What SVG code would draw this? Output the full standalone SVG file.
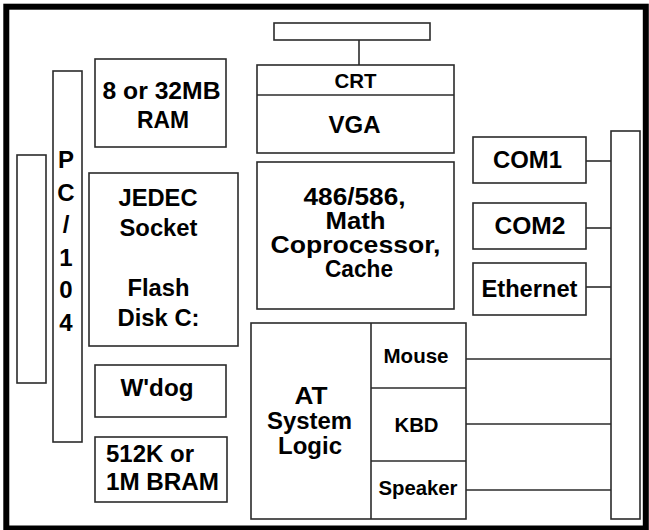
<svg xmlns="http://www.w3.org/2000/svg" width="649" height="530" viewBox="0 0 649 530">
<style>
.box{fill:#fff;stroke:#2b2b2b;stroke-width:1.6}
.ln{stroke:#2b2b2b;stroke-width:1.6;fill:none}
text{font-family:"Liberation Sans",Arial,sans-serif;font-weight:bold;font-size:23px;fill:#000;text-anchor:middle}
.s{font-size:21px}
.p{font-size:24px}
.l{text-anchor:start}
</style>
<rect x="0" y="0" width="649" height="530" fill="#fff"/>
<rect id="frame" x="6.3" y="6.7" width="639.5" height="521.8" fill="none" stroke="#000" stroke-width="6"/>
<g id="connectors">
<line class="ln" x1="359" y1="40" x2="359" y2="65"/>
<line class="ln" x1="586" y1="161" x2="611" y2="161"/>
<line class="ln" x1="586" y1="228" x2="611" y2="228"/>
<line class="ln" x1="586" y1="287" x2="611" y2="287"/>
<line class="ln" x1="466" y1="359" x2="611" y2="359"/>
<line class="ln" x1="466" y1="424" x2="611" y2="424"/>
<line class="ln" x1="466" y1="490" x2="611" y2="490"/>
</g>
<g id="crt-connector"><rect class="box" x="274" y="23" width="156" height="17"/></g>
<g id="left-connector"><rect class="box" x="17" y="155" width="29" height="228"/></g>
<g id="pc104">
<rect class="box" x="53" y="71" width="29" height="371"/>
<text class="p" x="66" y="168">P</text>
<text class="p" x="66" y="200.5">C</text>
<text class="p" x="66" y="233">/</text>
<text class="p" x="66" y="265.5">1</text>
<text class="p" x="66" y="298">0</text>
<text class="p" x="66" y="330.5">4</text>
</g>
<g id="ram">
<rect class="box" x="95" y="59" width="131" height="88"/>
<text x="161.5" y="99" textLength="118" lengthAdjust="spacingAndGlyphs">8 or 32MB</text>
<text x="163" y="128" textLength="52" lengthAdjust="spacingAndGlyphs">RAM</text>
</g>
<g id="jedec">
<rect class="box" x="89" y="173" width="149" height="173"/>
<text x="158" y="206" textLength="79" lengthAdjust="spacingAndGlyphs">JEDEC</text>
<text x="158.5" y="236" textLength="78" lengthAdjust="spacingAndGlyphs">Socket</text>
<text x="158.5" y="296" textLength="62" lengthAdjust="spacingAndGlyphs">Flash</text>
<text x="158.5" y="326" textLength="82" lengthAdjust="spacingAndGlyphs">Disk C:</text>
</g>
<g id="wdog">
<rect class="box" x="95" y="365" width="131" height="52"/>
<text x="157" y="396" textLength="73" lengthAdjust="spacingAndGlyphs">W'dog</text>
</g>
<g id="bram">
<rect class="box" x="95" y="437" width="132" height="65"/>
<text class="l" x="106" y="462" textLength="88" lengthAdjust="spacingAndGlyphs">512K or</text>
<text class="l" x="106" y="490" textLength="113" lengthAdjust="spacingAndGlyphs">1M BRAM</text>
</g>
<g id="vga">
<rect class="box" x="257" y="65" width="197" height="88"/>
<line class="ln" x1="257" y1="95" x2="454" y2="95"/>
<text class="s" x="355.5" y="88" textLength="42" lengthAdjust="spacingAndGlyphs">CRT</text>
<text x="354.5" y="133" textLength="52" lengthAdjust="spacingAndGlyphs">VGA</text>
</g>
<g id="cpu">
<rect class="box" x="257" y="162" width="197" height="147"/>
<text x="354.5" y="205" textLength="102" lengthAdjust="spacingAndGlyphs">486/586,</text>
<text x="355.5" y="229" textLength="60" lengthAdjust="spacingAndGlyphs">Math</text>
<text x="355.5" y="253" textLength="170" lengthAdjust="spacingAndGlyphs">Coprocessor,</text>
<text x="359" y="277" textLength="68" lengthAdjust="spacingAndGlyphs">Cache</text>
</g>
<g id="at">
<rect class="box" x="251" y="323" width="215" height="196"/>
<line class="ln" x1="371" y1="323" x2="371" y2="519"/>
<line class="ln" x1="371" y1="388" x2="466" y2="388"/>
<line class="ln" x1="371" y1="461" x2="466" y2="461"/>
<text x="311" y="404" textLength="33" lengthAdjust="spacingAndGlyphs">AT</text>
<text x="309.5" y="429" textLength="85" lengthAdjust="spacingAndGlyphs">System</text>
<text x="310" y="454" textLength="64" lengthAdjust="spacingAndGlyphs">Logic</text>
<text class="s" x="416" y="363" textLength="65" lengthAdjust="spacingAndGlyphs">Mouse</text>
<text class="s" x="416.5" y="432" textLength="44" lengthAdjust="spacingAndGlyphs">KBD</text>
<text class="s" x="418" y="495" textLength="79" lengthAdjust="spacingAndGlyphs">Speaker</text>
</g>
<g id="com1">
<rect class="box" x="473" y="137" width="113" height="46"/>
<text x="527.5" y="168" textLength="69" lengthAdjust="spacingAndGlyphs">COM1</text>
</g>
<g id="com2">
<rect class="box" x="473" y="203" width="113" height="46"/>
<text x="530" y="234" textLength="71" lengthAdjust="spacingAndGlyphs">COM2</text>
</g>
<g id="ethernet">
<rect class="box" x="473" y="263" width="113" height="52"/>
<text x="529.5" y="297" textLength="96" lengthAdjust="spacingAndGlyphs">Ethernet</text>
</g>
<g id="bus">
<rect class="box" x="611" y="131" width="29" height="388"/>
</g>
</svg>
